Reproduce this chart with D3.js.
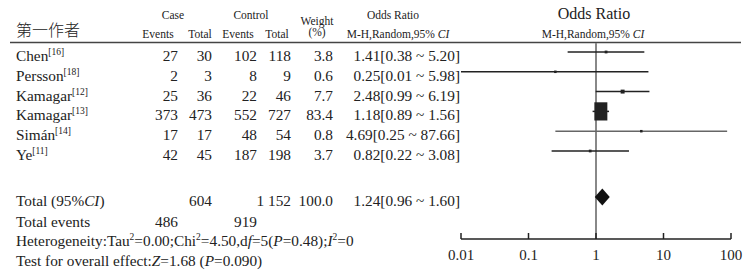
<!DOCTYPE html>
<html><head><meta charset="utf-8">
<script src="https://cdn.jsdelivr.net/npm/d3@7"></script>
<style>body{margin:0;background:#fff}svg{display:block}text{font-family:"Liberation Serif","Times New Roman",serif;fill:#222}</style>
</head><body><svg id="c" width="753" height="277"></svg>
<script>
const studies = ["Chen","Persson","Kamagar","Kamagar","Simán","Ye"];
const refs = ["[16]","[18]","[12]","[13]","[14]","[11]"];
const caseEvents = [27,2,25,373,17,42];
const caseTotal = [30,3,36,473,17,45];
const ctrlEvents = [102,8,22,552,48,187];
const ctrlTotal = [118,9,46,727,54,198];
const weights = [3.8,0.6,7.7,83.4,0.8,3.7];
const orVal = [1.41,0.25,2.48,1.18,4.69,0.82];
const orLo = [0.38,0.01,0.99,0.89,0.25,0.22];
const orHi = [5.20,5.98,6.19,1.56,87.66,3.08];
const total = {caseTotal:"604", ctrlTotal:"1 152", weight:"100.0", or:1.24, lo:0.96, hi:1.60, caseEvents:"486", ctrlEvents:"919"};
const axisTicks = [0.01,0.1,1,10,100];
const tickLabels = ["0.01","0.1","1","10","100"];

const svg = d3.select("#c");
const x = d3.scaleLog().domain([0.01,100]).range([461,731]);
const rowY = d3.scalePoint().domain(d3.range(6)).range([55,154]);
const boxSize = d3.scaleSqrt().domain([0,83.4]).range([0,13]);
const fs = 15.3;
const hs = 11.5;
const col = {ce:178, ct:212, oe:257, ot:291, w:333, or:460};

function txt(s, xx, yy, anchor, size, opts){
  const t = svg.append("text").attr("x",xx).attr("y",yy).attr("text-anchor",anchor||"start").attr("font-size",size||fs);
  if(opts && opts.html) t.html(s); else t.text(s);
  return t;
}
// headers
txt("第一作者",16,36,"start",16).style("font-family","'Noto Sans CJK SC',serif").style("font-weight","300");
txt("Case",173,19,"middle",hs);
txt("Control",251,19,"middle",hs);
txt("Events",158,38,"middle",hs);
txt("Total",200,38,"middle",hs);
txt("Events",238,38,"middle",hs);
txt("Total",277,38,"middle",hs);
txt("Weight",317,25,"middle",hs);
txt("(%)",317,36,"middle",hs);
txt("Odds Ratio",393,19,"middle",hs);
txt('M-H,Random,95% <tspan font-style="italic">CI</tspan>',398,38,"middle",hs,{html:true});
txt("Odds Ratio",594,19,"middle",16);
txt('M-H,Random,95% <tspan font-style="italic">CI</tspan>',593,38,"middle",hs,{html:true});
svg.append("line").attr("x1",10).attr("x2",741).attr("y1",42.5).attr("y2",42.5).attr("stroke","#444").attr("stroke-width",1.5);

// rows
studies.forEach((s,i)=>{
  const by = rowY(i)+6;
  txt(`${s}<tspan font-size="9.5" dy="-6">${refs[i]}</tspan>`,16,by,"start",fs,{html:true});
  txt(caseEvents[i],col.ce,by,"end");
  txt(caseTotal[i],col.ct,by,"end");
  txt(ctrlEvents[i],col.oe,by,"end");
  txt(ctrlTotal[i],col.ot,by,"end");
  txt(weights[i].toFixed(1),col.w,by,"end");
  txt(`${orVal[i].toFixed(2)}[${orLo[i].toFixed(2)} ~ ${orHi[i].toFixed(2)}]`,col.or,by,"end");
});
// totals
const ty = 206;
txt('Total (95%<tspan font-style="italic">CI</tspan>)',16,ty,"start",fs,{html:true});
txt(total.caseTotal,col.ct,ty,"end");
txt(total.ctrlTotal,col.ot,ty,"end");
txt(total.weight,col.w,ty,"end");
txt(`${total.or.toFixed(2)}[${total.lo.toFixed(2)} ~ ${total.hi.toFixed(2)}]`,col.or,ty,"end");
txt("Total events",16,227,"start");
txt(total.caseEvents,col.ce,227,"end");
txt(total.ctrlEvents,col.oe,227,"end");
txt('Heterogeneity:Tau<tspan font-size="9.5" dy="-6">2</tspan><tspan dy="6">=0.00;Chi</tspan><tspan font-size="9.5" dy="-6">2</tspan><tspan dy="6">=4.50,d</tspan><tspan font-style="italic">f</tspan>=5(<tspan font-style="italic">P</tspan>=0.48);<tspan font-style="italic">I</tspan><tspan font-size="9.5" dy="-6">2</tspan><tspan dy="6">=0</tspan>',16,246,"start",fs,{html:true});
txt('Test for overall effect:<tspan font-style="italic">Z</tspan>=1.68 (<tspan font-style="italic">P</tspan>=0.090)',16,266,"start",fs,{html:true});

// reference line
svg.append("line").attr("x1",x(1)).attr("x2",x(1)).attr("y1",43).attr("y2",239).attr("stroke","#888").attr("stroke-width",2);

// CI lines & boxes
studies.forEach((s,i)=>{
  const y = rowY(i) - 3;
  svg.append("line").attr("x1",x(orLo[i])).attr("x2",x(orHi[i])).attr("y1",y).attr("y2",y)
    .attr("stroke", i===4 ? "#666" : "#222").attr("stroke-width",1.5);
  const w = Math.max(2.5, boxSize(weights[i]));
  const h = i===3 ? w*1.4 : w;
  svg.append("rect").attr("x",x(orVal[i])-w/2).attr("y",y-h/2).attr("width",w).attr("height",h).attr("fill","#222");
});
// diamond
const dy = 197;
svg.append("path").attr("d",`M${x(total.lo)},${dy}L${x(total.or)},${dy-8.5}L${x(total.hi)},${dy}L${x(total.or)},${dy+8.5}Z`).attr("fill","#111");

// axis
const ax = svg.append("g").attr("transform","translate(0,239)");
ax.append("line").attr("x1",x(0.01)).attr("x2",x(100)).attr("stroke","#222").attr("stroke-width",1.5);
ax.selectAll("line.t").data(axisTicks).enter().append("line").attr("class","t")
  .attr("x1",d=>x(d)).attr("x2",d=>x(d)).attr("y1",-6).attr("y2",0).attr("stroke","#222").attr("stroke-width",1.5);
ax.selectAll("text.t").data(axisTicks).enter().append("text").attr("class","t")
  .attr("x",d=>x(d)).attr("y",21).attr("text-anchor","middle").attr("font-size",15).text((d,i)=>tickLabels[i]);
</script></body></html>
